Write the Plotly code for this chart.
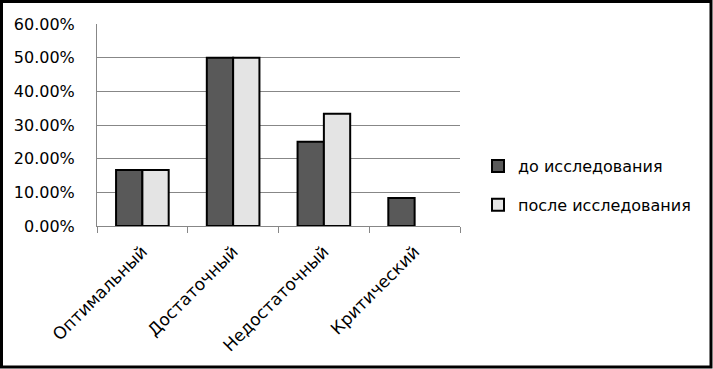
import plotly.graph_objects as go

categories = ["Оптимальный", "Достаточный", "Недостаточный", "Критический"]
series_names = ["до исследования", "после исследования"]
before_vals = [1/6, 1/2, 1/4, 1/12]
after_vals = [1/6, 1/2, 1/3, 0]
y_ticks = [0, 0.1, 0.2, 0.3, 0.4, 0.5, 0.6]

W, H = 713, 369
L, R, T, B = 97, 253, 24, 143
pw, ph = W - L - R, H - T - B

FONT = "DejaVu Sans"
GRID = "#878787"

fig = go.Figure()
fig.add_trace(go.Bar(x=categories, y=before_vals, name=series_names[0],
                     marker=dict(color="#595959", line=dict(color="#000000", width=2)),
                     legendgroup="a"))
fig.add_trace(go.Bar(x=categories, y=after_vals, name=series_names[1],
                     marker=dict(color="#e4e4e4",
                                 line=dict(color="#000000",
                                           width=[2 if v > 0 else 0 for v in after_vals])),
                     legendgroup="b"))

def px_x(px):
    return (px - L) / pw

def px_y(py):
    return 1 - (py - T) / ph

fig.add_shape(type="rect", xref="paper", yref="paper",
              x0=px_x(1.5), x1=px_x(W - 2), y0=px_y(H - 2), y1=px_y(1.5),
              line=dict(color="#000000", width=3), fillcolor="rgba(0,0,0,0)", layer="above")

fig.update_layout(
    width=W, height=H,
    margin=dict(l=L, r=R, t=T, b=B, pad=0, autoexpand=False),
    paper_bgcolor="white", plot_bgcolor="white",
    barmode="group", bargap=0.42, bargroupgap=0,
    font=dict(family=FONT, size=16, color="#000000"),
    showlegend=True,
    legend=dict(x=px_x(478), y=px_y(149), xanchor="left", yanchor="top",
                font=dict(family=FONT, size=16, color="#000000"),
                tracegroupgap=15, bgcolor="rgba(0,0,0,0)", itemwidth=30),
    xaxis=dict(showgrid=False, showline=True, linecolor=GRID, linewidth=1,
               ticks="outside", ticklen=6, tickcolor=GRID, tickson="boundaries",
               tickangle=-45, automargin=False, ticklabelstandoff=8,
               tickfont=dict(family=FONT, size=17, color="#000000")),
    yaxis=dict(range=[0, 0.6], tickvals=y_ticks, tickformat=".2%",
               showgrid=True, gridcolor=GRID, gridwidth=1,
               showline=True, linecolor=GRID, linewidth=1, zeroline=False,
               ticks="", ticklabelstandoff=18, automargin=False,
               tickfont=dict(family=FONT, size=16, color="#000000")),
)

fig.write_html("out.html", config={"displayModeBar": False},
               post_script="document.body.style.margin='0';document.body.style.overflow='hidden';")
